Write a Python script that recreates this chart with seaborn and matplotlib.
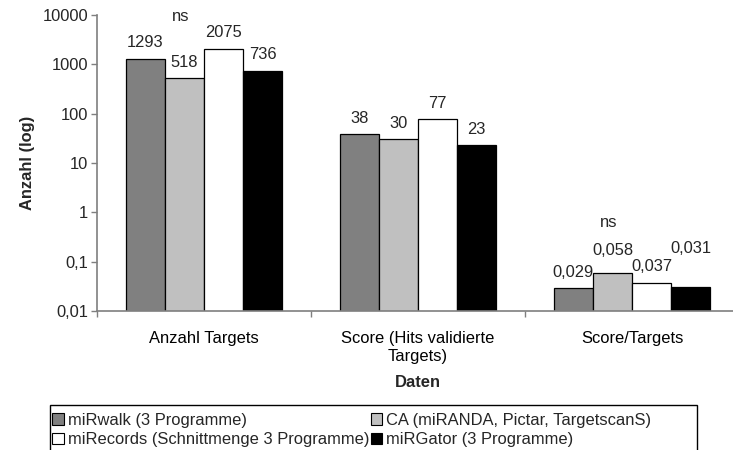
import matplotlib
matplotlib.use("Agg")
import matplotlib.pyplot as plt
from matplotlib.patches import Rectangle
from matplotlib.ticker import FixedLocator, NullLocator
import numpy as np
import pandas as pd
import seaborn as sns

# Data
categories = ["Anzahl Targets", "Score (Hits validierte\nTargets)", "Score/Targets"]
series = [
    "miRwalk (3 Programme)",
    "CA (miRANDA, Pictar, TargetscanS)",
    "miRecords (Schnittmenge 3 Programme)",
    "miRGator (3 Programme)",
]
mirwalk = [1293, 38, 0.029]
ca = [518, 30, 0.058]
mirecords = [2075, 77, 0.037]
mirgator = [736, 23, 0.031]
y_ticks = [0.01, 0.1, 1, 10, 100, 1000, 10000]
y_tick_labels = ["0,01", "0,1", "1", "10", "100", "1000", "10000"]
ns_marks = {(0, 1): "ns", (2, 1): "ns"}  # (category, series) -> text

colors = ["#808080", "#C0C0C0", "#FFFFFF", "#000000"]

df = pd.DataFrame({
    "Daten": categories * 4,
    "Serie": sum([[s] * 3 for s in series], []),
    "Wert": mirwalk + ca + mirecords + mirgator,
})

sns.set_style("white")
plt.rcParams["font.family"] = ["Liberation Sans", "DejaVu Sans"]
FS = 11.9

fig = plt.figure(figsize=(7.33, 4.5), dpi=100)
ax = fig.add_axes([97 / 733, 1 - 311 / 450, 642 / 733, 296 / 450])

sns.barplot(
    data=df, x="Daten", y="Wert", hue="Serie", order=categories, hue_order=series,
    palette=colors, width=0.73, gap=0, edgecolor="black", linewidth=0.9,
    saturation=1, ax=ax, legend=False, errorbar=None,
)
ax.set_yscale("log")
ax.set_ylim(0.01, 10000)
ax.set_xlim(-0.5, 2.5)
ax.yaxis.set_major_locator(FixedLocator(y_ticks))
ax.yaxis.set_minor_locator(NullLocator())
ax.set_yticklabels(y_tick_labels)

# category boundaries carry the tick marks, names sit between them
ax.xaxis.set_minor_locator(FixedLocator([-0.5, 0.5, 1.5, 2.5]))
ax.tick_params(axis="x", which="major", length=0, pad=14.5, labelsize=FS, colors="black")
ax.tick_params(axis="x", which="minor", length=4, width=1, color="#7f7f7f", direction="out", bottom=True)
ax.tick_params(axis="y", which="major", length=4, width=1, color="#7f7f7f", direction="out",
               pad=2.5, labelsize=FS, left=True)

for side in ["top", "right"]:
    ax.spines[side].set_visible(False)
for side in ["left", "bottom"]:
    ax.spines[side].set_color("#7f7f7f")
    ax.spines[side].set_linewidth(1.2)

ax.set_xlabel("Daten", fontsize=FS, fontweight="bold", labelpad=8)
ax.set_ylabel("Anzahl (log)", fontsize=FS, fontweight="bold", labelpad=5)

# value labels above the bars (a few lifted to stay clear of neighbours)
lift = {(2, 1): 23, (2, 3): 38}
for si, cont in enumerate(ax.containers):
    for ci, bar in enumerate(cont):
        v = bar.get_height()
        txt = f"{v:g}".replace(".", ",")
        ax.annotate(txt, (bar.get_x() + bar.get_width() / 2, v),
                    xytext=(0, lift.get((ci, si), 16)), textcoords="offset pixels",
                    ha="center", va="center", fontsize=FS)
        if (ci, si) in ns_marks:
            off = 62 if ci == 0 else 51
            ax.annotate(ns_marks[(ci, si)], (bar.get_x() + bar.get_width() / 2, v),
                        xytext=(-4, off), textcoords="offset pixels",
                        ha="center", va="center", fontsize=FS)

# legend below the chart, filled row by row
handles = [Rectangle((0, 0), 1, 1, facecolor=c, edgecolor="black", linewidth=0.8) for c in colors]
order = [0, 2, 1, 3]
leg = fig.legend([handles[i] for i in order], [series[i] for i in order],
                 loc="upper left", bbox_to_anchor=(52 / 733, 1 - 413 / 450),
                 ncol=2, frameon=False, fontsize=FS, handlelength=0.7, handleheight=0.7,
                 handletextpad=0.25, columnspacing=0.1, labelspacing=0.25, borderpad=0,
                 borderaxespad=0)
fig.add_artist(Rectangle((50 / 733, 1 - 470 / 450), 647 / 733, 65 / 450,
                         transform=fig.transFigure, fill=False, edgecolor="black", linewidth=1))

fig.savefig("out.png", dpi=100)
